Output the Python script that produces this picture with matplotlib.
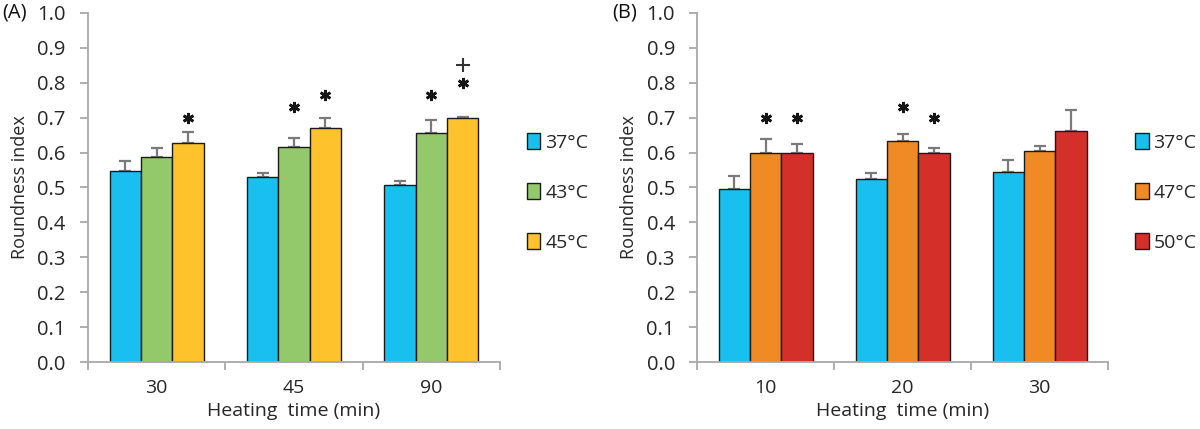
import numpy as np
import matplotlib
matplotlib.use("Agg")
import matplotlib.pyplot as plt
from matplotlib.patches import Patch

plt.rcParams['font.family'] = ['Open Sans', 'DejaVu Sans']

# panel A data
times_a = ['30', '45', '90']
labels_a = ['37°C', '43°C', '45°C']
means_a = [[0.547, 0.530, 0.507],
           [0.587, 0.617, 0.657],
           [0.628, 0.670, 0.698]]
errs_a = [[0.030, 0.012, 0.012],
          [0.026, 0.026, 0.037],
          [0.031, 0.030, 0.005]]
# significance marks: star level per bar (nan = none), plus level
stars_a = [[np.nan, np.nan, np.nan],
           [np.nan, 0.730, 0.765],
           [0.700, 0.765, 0.800]]
plus_a = [[np.nan, np.nan, np.nan],
          [np.nan, np.nan, np.nan],
          [np.nan, np.nan, 0.850]]
colors_a = ['#19bfee', '#93c86b', '#fdc22c']

# panel B data
times_b = ['10', '20', '30']
labels_b = ['37°C', '47°C', '50°C']
means_b = [[0.496, 0.524, 0.545],
           [0.600, 0.633, 0.605],
           [0.600, 0.600, 0.662]]
errs_b = [[0.036, 0.018, 0.033],
          [0.040, 0.020, 0.013],
          [0.025, 0.013, 0.060]]
stars_b = [[np.nan, np.nan, np.nan],
           [0.700, 0.730, np.nan],
           [0.700, 0.700, np.nan]]
plus_b = [[np.nan, np.nan, np.nan],
          [np.nan, np.nan, np.nan],
          [np.nan, np.nan, np.nan]]
colors_b = ['#19bfee', '#f08a24', '#d4302a']

AX_GRAY = '#a8a8a8'
TXT = '#262626'


def draw_panel(ax, times, labels, means, errs, stars, plus, colors, tag):
    x = np.arange(len(times))
    w = 0.228
    for i in range(len(labels)):
        pos = x + (i - 1) * w
        m = np.array(means[i])
        e = np.array(errs[i])
        ax.bar(pos, m, width=w, color=colors[i], edgecolor='#1a1a1a',
               linewidth=1.0, label=labels[i], zorder=2)
        ax.errorbar(pos, m, yerr=[np.zeros_like(e), e], fmt='none',
                    ecolor='#7a7a7a', elinewidth=1.6, capsize=4.5,
                    capthick=1.6, zorder=1)
        ax.plot(pos, stars[i], ls='none', marker=(6, 2, 0), ms=8, mew=1.9,
                color='#151515', clip_on=False)
        ax.plot(pos, plus[i], ls='none', marker='+', ms=10, mew=1.5,
                color='#333333', clip_on=False)
    ax.set_xlim(-0.5, len(times) - 0.5)
    ax.set_ylim(0, 1.0)
    ax.set_yticks(np.arange(0, 1.01, 0.1))
    ax.set_yticklabels([f'{v:.1f}' for v in np.arange(0, 1.01, 0.1)])
    ax.set_xticks(x)
    ax.set_xticklabels(times)
    ax.set_xticks(np.arange(-0.5, len(times), 1.0), minor=True)
    ax.tick_params(axis='x', which='major', length=0, pad=12,
                   labelsize=14, labelcolor=TXT)
    ax.tick_params(axis='x', which='minor', length=6, width=1.3,
                   color=AX_GRAY, direction='out')
    ax.tick_params(axis='y', length=6, width=1.3, color=AX_GRAY,
                   labelsize=14.5, labelcolor=TXT, pad=10)
    for sp in ['top', 'right']:
        ax.spines[sp].set_visible(False)
    for sp in ['left', 'bottom']:
        ax.spines[sp].set_color(AX_GRAY)
        ax.spines[sp].set_linewidth(1.3)
    ax.set_ylabel('Roundness index', fontsize=13, color=TXT, labelpad=6)
    ax.set_xlabel('Heating  time (min)', fontsize=14, color=TXT, labelpad=4)
    handles = [Patch(facecolor=c, edgecolor='#1a1a1a', linewidth=1.0)
               for c in colors]
    ax.legend(handles, labels, loc='upper left', bbox_to_anchor=(1.065, 0.655),
              frameon=False, fontsize=14, handlelength=0.7,
              handleheight=0.9, handletextpad=0.25, labelspacing=1.6,
              borderpad=0, borderaxespad=0, labelcolor=TXT)
    ax.text(-0.207, 1.0, tag, transform=ax.transAxes, fontsize=14.5,
            color='#111111', ha='left', va='center')


fig = plt.figure(figsize=(12, 4.29), dpi=100)
ax_a = fig.add_axes([0.0733, 0.156, 0.3434, 0.814])
ax_b = fig.add_axes([0.581, 0.156, 0.3425, 0.814])

draw_panel(ax_a, times_a, labels_a, means_a, errs_a, stars_a, plus_a,
           colors_a, '(A)')
draw_panel(ax_b, times_b, labels_b, means_b, errs_b, stars_b, plus_b,
           colors_b, '(B)')

fig.savefig('out.png', dpi=100)
